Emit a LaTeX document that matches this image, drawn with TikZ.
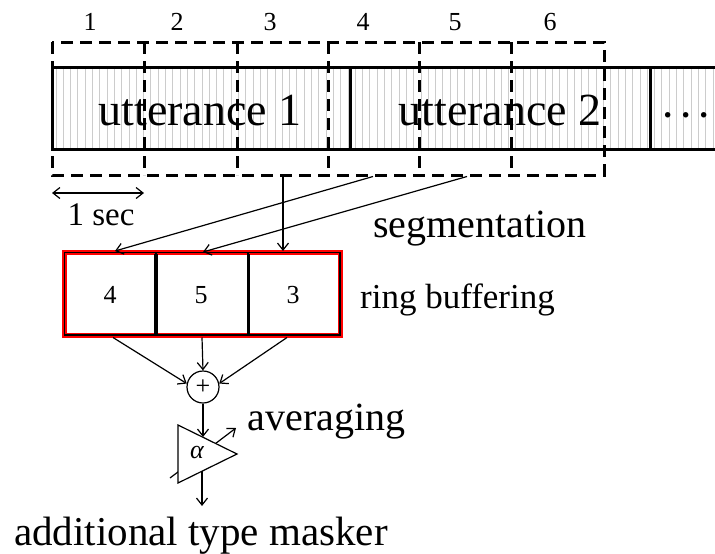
\documentclass[tikz,border=0pt]{standalone}
\usepackage{fontspec}
\setmainfont{Liberation Serif}
\usetikzlibrary{arrows.meta}
\tikzset{
  conn/.style={line width=1.2pt,-{Straight Barb[length=7pt,width=11pt,line width=1.2pt]}},
  dbl/.style={line width=1.2pt,{Straight Barb[length=7pt,width=11pt,line width=1.2pt]}-{Straight Barb[length=7pt,width=11pt,line width=1.2pt]}},
  strip/.style={line width=3pt},
  win/.style={line width=3pt,dash pattern=on 12pt off 7pt},
  cell/.style={draw,line width=1.5pt,minimum height=82.5pt,inner sep=0pt},
  num/.style={font=\fontsize{26}{26}\selectfont,anchor=base},
  big/.style={font=\fontsize{46}{46}\selectfont,anchor=base,inner sep=0pt},
  lbl/.style={anchor=base,inner sep=0pt},
}
\begin{document}
\begin{tikzpicture}[x=1pt,y=-1pt]
\useasboundingbox (0,0) rectangle (715,554);
% strip background and hatching
\fill[white] (52,67) rectangle (715,149);
\foreach \i in {0,...,90} {
  \draw[gray!40,line width=0.9pt] ({56+7.3*\i},68) -- ({56+7.3*\i},148);
}
\draw[strip] (715,67) -- (52,67) -- (52,149) -- (715,149);
\draw[strip] (350,67) -- (350,149);
\draw[strip] (650,67) -- (650,149);
% texts on the strip
\node[big] (u1) at (200,125) {utterance 1};
\node[big] (u2) at (500,125) {utterance 2};
\node[font=\fontsize{46}{46}\selectfont,inner sep=0pt] (dots) at (686,122) {·\kern3pt·\kern3pt·};
% dashed windows
\draw[win] (52,42) rectangle (604,175);
\foreach \xx in {144,237,328,419,511} {
  \draw[win] (\xx,42) -- (\xx,175);
}
% window numbers
\foreach \n/\xx in {1/90,2/177,3/270,4/363,5/455,6/550} {
  \node[num] (n\n) at (\xx,30) {\n};
}
% 1 sec
\coordinate (sa) at (52,193);
\coordinate (sb) at (144,193);
\draw[dbl] (sa) -- (sb);
\node[lbl,font=\fontsize{33}{33}\selectfont] (sec) at (101,225) {1 sec};
% segmentation label
\node[lbl,font=\fontsize{40}{40}\selectfont] (seg) at (480,237) {segmentation};
% ring buffer
\draw[red,line width=5pt] (64.5,252.5) rectangle (340.5,335);
\node[cell,minimum width=91.5pt] (c4) at (110.25,293.75) {};
\node[cell,minimum width=92pt] (c5) at (202,293.75) {};
\node[cell,minimum width=91.5pt] (c3) at (294,293.75) {};
\draw[line width=4pt] (156,254) -- (156,334);
\draw[line width=3pt] (248,254) -- (248,334);
\node[num] (t4) at (110,303) {4};
\node[num] (t5) at (201,303) {5};
\node[num] (t3) at (293,303) {3};
\node[lbl,font=\fontsize{35}{35}\selectfont] (ring) at (457.5,308) {ring buffering};
% segmentation arrows
\coordinate (w3) at (283,176.5);
\coordinate (w4) at (373,176.5);
\coordinate (w5) at (467,176.5);
\coordinate (i3) at (283,251);
\coordinate (i4) at (115,251);
\coordinate (i5) at (203,252);
\draw[conn] (w3) -- (i3);
\draw[conn] (w4) -- (i4);
\draw[conn] (w5) -- (i5);
% sum
\node[draw,circle,line width=1.2pt,minimum size=32pt,inner sep=0pt,font=\fontsize{26}{26}\selectfont] (sum) at (203,387) {+};
\coordinate (b4) at (113,337.5);
\coordinate (b5) at (202,337.5);
\coordinate (b3) at (287,337.5);
\draw[conn] (b4) -- (sum.168);
\draw[conn] (b5) -- (sum.north);
\draw[conn] (b3) -- (sum.12);
% amplifier
\coordinate (ga) at (170,478);
\coordinate (gb) at (236,428);
\draw[conn] (ga) -- (gb);
\coordinate (p1) at (178,425);
\coordinate (p2) at (178,483);
\coordinate (p3) at (237,454);
\draw[line width=1.2pt,fill=white] (p1) -- (p2) -- (p3) -- cycle;
\node[font=\fontsize{26}{26}\itshape] (alpha) at (197,452) {α};
\coordinate (ampin) at (203,437);
\coordinate (ampout) at (202,471);
\coordinate (outend) at (202,506);
\draw[conn] (sum.south) -- (ampin);
\draw[conn] (ampout) -- (outend);
\node[lbl,font=\fontsize{40}{40}\selectfont] (avg) at (326.5,430) {averaging};
\node[lbl,font=\fontsize{41}{41}\selectfont] (mask) at (201,545) {additional type masker};
\end{tikzpicture}
\end{document}
